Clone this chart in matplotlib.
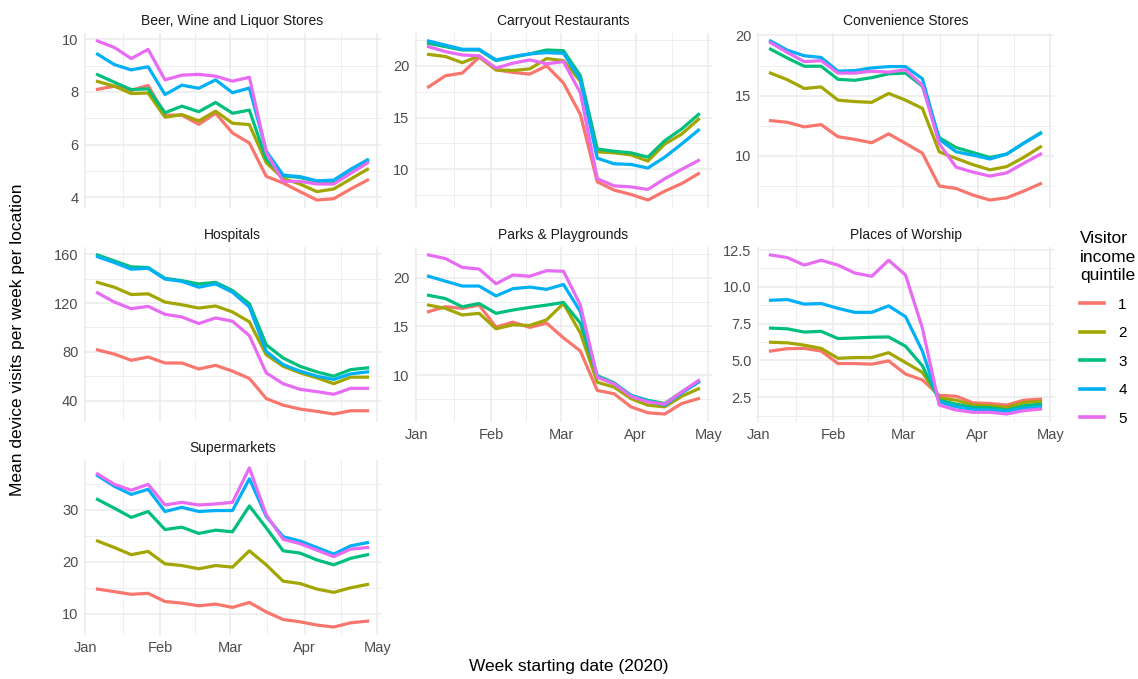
import numpy as np
import pandas as pd
import matplotlib
matplotlib.use("Agg")
import matplotlib.pyplot as plt
import matplotlib.dates as mdates
from matplotlib.lines import Line2D
from matplotlib.ticker import FixedLocator

plt.rcParams['font.family'] = ['Liberation Sans', 'DejaVu Sans']

# weekly data, Jan 6 - Apr 27 2020
weeks = pd.date_range("2020-01-06", periods=17, freq="7D")

quintiles = ["1", "2", "3", "4", "5"]
colors = ["#F8766D", "#A3A500", "#00BF7D", "#00B0F6", "#E76BF3"]

beer = [
    [8.10, 8.22, 8.06, 8.25, 7.12, 7.12, 6.77, 7.19, 6.44, 6.06, 4.79, 4.54, 4.21, 3.89, 3.94, 4.31, 4.65],
    [8.40, 8.22, 7.94, 7.96, 7.04, 7.14, 6.90, 7.27, 6.81, 6.76, 5.31, 4.71, 4.50, 4.21, 4.31, 4.69, 5.06],
    [8.66, 8.37, 8.09, 8.12, 7.21, 7.46, 7.25, 7.60, 7.19, 7.31, 5.44, 4.81, 4.75, 4.59, 4.59, 5.04, 5.37],
    [9.44, 9.04, 8.84, 8.96, 7.90, 8.26, 8.14, 8.46, 7.97, 8.15, 5.75, 4.84, 4.78, 4.62, 4.65, 5.06, 5.42],
    [9.94, 9.69, 9.27, 9.62, 8.46, 8.64, 8.67, 8.60, 8.41, 8.56, 5.70, 4.60, 4.60, 4.50, 4.50, 4.90, 5.30],
]
carryout = [
    [17.96, 19.04, 19.30, 20.83, 19.62, 19.36, 19.20, 20.00, 18.34, 15.30, 8.80, 8.00, 7.58, 7.04, 7.90, 8.63, 9.59],
    [21.10, 20.90, 20.30, 20.96, 19.60, 19.55, 19.70, 20.70, 20.50, 18.50, 11.70, 11.60, 11.40, 10.80, 12.45, 13.40, 14.84],
    [22.17, 21.85, 21.53, 21.53, 20.50, 20.83, 21.15, 21.53, 21.46, 19.04, 11.97, 11.75, 11.60, 11.18, 12.77, 13.90, 15.30],
    [22.40, 22.00, 21.60, 21.60, 20.57, 20.90, 21.15, 21.27, 21.20, 18.66, 11.08, 10.54, 10.48, 10.13, 11.18, 12.45, 13.79],
    [21.85, 21.37, 21.05, 20.96, 19.78, 20.25, 20.57, 20.19, 20.41, 17.39, 9.10, 8.41, 8.31, 8.06, 9.10, 10.00, 10.86],
]
convenience = [
    [12.92, 12.78, 12.40, 12.59, 11.58, 11.36, 11.08, 11.82, 11.03, 10.22, 7.49, 7.28, 6.73, 6.32, 6.51, 7.06, 7.68],
    [16.87, 16.32, 15.59, 15.72, 14.62, 14.50, 14.44, 15.18, 14.62, 13.94, 10.33, 9.78, 9.26, 8.83, 9.10, 9.86, 10.74],
    [18.86, 18.12, 17.44, 17.44, 16.35, 16.27, 16.49, 16.81, 16.87, 15.78, 11.50, 10.68, 10.27, 9.86, 10.14, 11.04, 11.90],
    [19.54, 18.77, 18.31, 18.17, 17.03, 17.08, 17.30, 17.41, 17.41, 16.40, 11.36, 10.33, 10.05, 9.73, 10.14, 11.04, 11.85],
    [19.40, 18.58, 17.82, 17.90, 16.87, 16.87, 17.03, 16.95, 17.14, 15.86, 11.00, 9.05, 8.64, 8.31, 8.58, 9.37, 10.14],
]
hospitals = [
    [81.6, 78.1, 73.0, 75.7, 70.8, 70.8, 65.9, 68.9, 64.1, 58.1, 41.6, 36.2, 33.0, 31.1, 28.9, 31.6, 31.6],
    [137.0, 133.0, 127.0, 127.6, 120.8, 118.6, 115.9, 117.6, 112.7, 104.6, 77.6, 68.1, 62.7, 58.6, 53.8, 59.2, 59.2],
    [159.5, 154.6, 149.7, 149.2, 140.3, 138.4, 135.7, 137.0, 130.3, 119.5, 85.7, 74.9, 68.1, 63.5, 60.0, 65.4, 66.8],
    [158.1, 153.2, 147.8, 148.6, 139.7, 137.8, 133.0, 135.7, 128.9, 116.8, 80.3, 69.5, 64.1, 60.0, 57.3, 61.9, 63.5],
    [128.4, 120.8, 115.4, 117.3, 110.8, 108.6, 103.2, 107.8, 105.1, 93.2, 62.7, 53.8, 49.2, 47.3, 45.1, 50.0, 50.0],
]
parks = [
    [16.52, 17.03, 16.86, 17.20, 14.93, 15.44, 14.90, 15.34, 13.82, 12.47, 8.41, 8.07, 6.72, 6.11, 5.98, 7.06, 7.57],
    [17.20, 16.86, 16.18, 16.35, 14.76, 15.17, 15.10, 15.68, 17.36, 14.32, 9.26, 8.75, 7.57, 6.89, 6.72, 7.80, 8.58],
    [18.21, 17.87, 17.03, 17.36, 16.35, 16.69, 16.96, 17.20, 17.47, 15.34, 9.93, 9.19, 7.90, 7.40, 7.06, 8.24, 9.36],
    [20.17, 19.66, 19.16, 19.16, 18.14, 18.89, 19.05, 18.82, 19.32, 16.52, 9.83, 9.09, 7.90, 7.33, 6.89, 8.14, 9.26],
    [22.36, 21.99, 21.08, 20.91, 19.39, 20.30, 20.17, 20.74, 20.68, 17.20, 9.76, 9.09, 7.80, 7.23, 7.00, 8.24, 9.43],
]
worship = [
    [5.64, 5.80, 5.82, 5.64, 4.79, 4.79, 4.75, 4.97, 4.08, 3.68, 2.63, 2.57, 2.12, 2.08, 1.97, 2.30, 2.37],
    [6.24, 6.20, 6.04, 5.82, 5.15, 5.20, 5.20, 5.53, 4.86, 4.19, 2.46, 2.30, 1.97, 1.92, 1.81, 2.14, 2.23],
    [7.20, 7.15, 6.93, 6.98, 6.49, 6.53, 6.58, 6.60, 5.97, 4.64, 2.30, 2.03, 1.81, 1.79, 1.63, 1.92, 2.03],
    [9.09, 9.14, 8.83, 8.87, 8.54, 8.27, 8.27, 8.71, 7.98, 5.64, 2.19, 1.85, 1.68, 1.63, 1.56, 1.74, 1.85],
    [12.17, 11.99, 11.48, 11.81, 11.48, 10.94, 10.72, 11.81, 10.81, 7.20, 1.97, 1.63, 1.48, 1.48, 1.36, 1.59, 1.70],
]
supermarkets = [
    [14.73, 14.23, 13.72, 13.91, 12.33, 12.02, 11.51, 11.83, 11.20, 12.15, 10.32, 8.86, 8.42, 7.79, 7.41, 8.23, 8.55],
    [24.00, 22.74, 21.36, 21.99, 19.59, 19.27, 18.64, 19.27, 18.96, 22.11, 19.40, 16.25, 15.80, 14.73, 14.10, 14.98, 15.62],
    [32.02, 30.32, 28.55, 29.68, 26.21, 26.66, 25.46, 26.09, 25.77, 30.76, 26.53, 22.11, 21.67, 20.35, 19.40, 20.66, 21.36],
    [36.62, 34.54, 32.97, 33.97, 29.68, 30.50, 29.68, 29.87, 29.87, 35.99, 28.74, 24.83, 24.00, 22.74, 21.48, 23.06, 23.69],
    [36.94, 34.92, 33.79, 34.92, 30.95, 31.45, 30.95, 31.14, 31.45, 38.08, 29.05, 24.32, 23.50, 22.24, 20.98, 22.43, 22.74],
]

panel_titles = ["Beer, Wine and Liquor Stores", "Carryout Restaurants", "Convenience Stores",
                "Hospitals", "Parks & Playgrounds", "Places of Worship", "Supermarkets"]
panel_data = [beer, carryout, convenience, hospitals, parks, worship, supermarkets]
y_breaks = [[4, 6, 8, 10], [10, 15, 20], [10, 15, 20], [40, 80, 120, 160],
            [10, 15, 20], [2.5, 5.0, 7.5, 10.0, 12.5], [10, 20, 30]]
y_labels = [["4", "6", "8", "10"], ["10", "15", "20"], ["10", "15", "20"],
            ["40", "80", "120", "160"], ["10", "15", "20"],
            ["2.5", "5.0", "7.5", "10.0", "12.5"], ["10", "20", "30"]]

month_breaks = pd.to_datetime(["2020-01-01", "2020-02-01", "2020-03-01", "2020-04-01", "2020-05-01"])
month_labels = ["Jan", "Feb", "Mar", "Apr", "May"]

W, H = 1138, 679
fig = plt.figure(figsize=(W / 100, H / 100), dpi=100)

col_left = [84, 415, 757]
row_top = [33, 247, 460]
pw, ph = 297, 175

grid_col = "#EBEBEB"
text_col = "#4D4D4D"

x_num = mdates.date2num(weeks)
xr = x_num[-1] - x_num[0]
xlim = (x_num[0] - 0.05 * xr, x_num[-1] + 0.05 * xr)
mb = mdates.date2num(month_breaks)
x_minor = (mb[:-1] + mb[1:]) / 2

for i, (title, data) in enumerate(zip(panel_titles, panel_data)):
    r, c = divmod(i, 3)
    ax = fig.add_axes([col_left[c] / W, 1 - (row_top[r] + ph) / H, pw / W, ph / H])
    for k in range(5):
        ax.plot(x_num, data[k], color=colors[k], lw=2.3, solid_joinstyle='round', zorder=3)
    arr = np.array(data)
    lo, hi = arr.min(), arr.max()
    yr = hi - lo
    ax.set_ylim(lo - 0.05 * yr, hi + 0.05 * yr)
    ax.set_xlim(*xlim)

    yb = y_breaks[i]
    ax.yaxis.set_major_locator(FixedLocator(yb))
    step = yb[1] - yb[0]
    ym = [yb[0] - step / 2] + [b + step / 2 for b in yb]
    ax.yaxis.set_minor_locator(FixedLocator(ym))
    ax.set_yticklabels(y_labels[i])

    ax.xaxis.set_major_locator(FixedLocator(mb))
    ax.xaxis.set_minor_locator(FixedLocator(x_minor))
    show_x = (r == 2) or (r == 1 and c > 0)
    if show_x:
        ax.set_xticklabels(month_labels)
    else:
        ax.set_xticklabels([])

    ax.grid(which='major', color=grid_col, lw=1.1, zorder=0)
    ax.grid(which='minor', color=grid_col, lw=0.55, zorder=0)
    for s in ax.spines.values():
        s.set_visible(False)
    ax.tick_params(which='both', length=0, labelsize=10.5, labelcolor=text_col, pad=4)
    ax.set_title(title, fontsize=10, color="#1A1A1A", pad=6)

fig.text((84 + 1053) / 2 / W, 1 - 666 / H, "Week starting date (2020)",
         ha='center', va='center', fontsize=12.5, color="black")
fig.text(18 / W, 1 - 340 / H, "Mean device visits per week per location",
         ha='center', va='center', rotation=90, fontsize=12.5, color="black")

handles = [Line2D([], [], color=colors[k], lw=2.6) for k in range(5)]
leg = fig.legend(handles, quintiles, title="Visitor\nincome\nquintile",
                 loc='upper left', bbox_to_anchor=(1080 / W, 1 - 231 / H),
                 frameon=False, fontsize=11, title_fontsize=12.5,
                 borderpad=0, borderaxespad=0,
                 handlelength=1.6, handletextpad=0.9, labelspacing=0.95,
                 alignment='left')
leg.get_title().set_linespacing(1.3)

fig.savefig("out.png", dpi=100)
